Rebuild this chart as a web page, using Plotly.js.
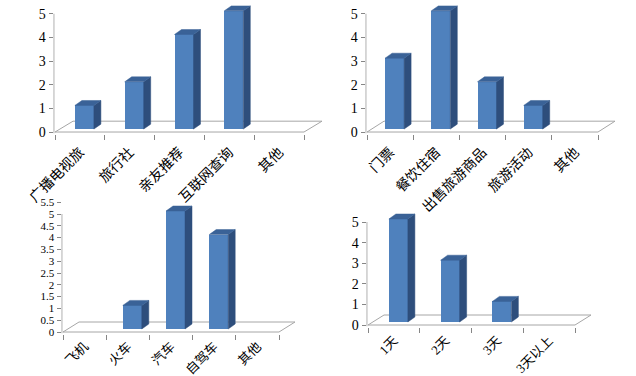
<!DOCTYPE html>
<html>
<head>
<meta charset="utf-8">
<script src="https://cdn.plot.ly/plotly-3.0.1.min.js"></script>
<style>html,body{margin:0;padding:0;background:#fff;}#chart{width:636px;height:376px;}</style>
</head>
<body>
<div id="chart"></div>
<script>
// ---- data ----
const infoCats = ["广播电视旅", "旅行社", "亲友推荐", "互联网查询", "其他"];
const infoVals = [1, 2, 4, 5, 0];
const spendCats = ["门票", "餐饮住宿", "出售旅游商品", "旅游活动", "其他"];
const spendVals = [3, 5, 2, 1, 0];
const transCats = ["飞机", "火车", "汽车", "自驾车", "其他"];
const transVals = [0, 1, 5, 4, 0];
const daysCats = ["1天", "2天", "3天", "3天以上"];
const daysVals = [5, 3, 1, 0];

// ---- geometry (pixels) ----
const W = 636, H = 376;
const panels = [
  {cats: infoCats, vals: infoVals, px0: 55, px1: 304, py0: 132, py5: 12, fdx: 18, fdy: 11, dtick: 1, fs: 14, lfs: 14, so: 7},
  {cats: spendCats, vals: spendVals, px0: 367, px1: 598, py0: 132, py5: 12, fdx: 17, fdy: 11, dtick: 1, fs: 14, lfs: 14, so: 7},
  {cats: transCats, vals: transVals, px0: 63, px1: 279, py0: 332, py5: 214, fdx: 16, fdy: 10, dtick: 0.5, fs: 11, lfs: 13, so: 2},
  {cats: daysCats, vals: daysVals, px0: 368, px1: 575, py0: 325, py5: 222, fdx: 16, fdy: 10, dtick: 1, fs: 14, lfs: 13, so: 3}
];

const FRONT = '#4F81BD', SIDE = '#2E4E7C', TOP = '#3A6297';
const AXC = '#868686', FLOORC = '#A6A6A6';

const traces = [];
const layout = {
  width: W, height: H, margin: {l: 0, r: 0, t: 0, b: 0},
  paper_bgcolor: '#fff', plot_bgcolor: 'rgba(0,0,0,0)',
  showlegend: false, shapes: [], bargap: 0
};

panels.forEach((p, k) => {
  const n = p.cats.length;
  const xpx = (p.px1 - p.px0) / n;
  const ypx = (p.py0 - p.py5) / 5;
  const xs = k === 0 ? '' : String(k + 1);
  const xa = 'x' + xs, ya = 'y' + xs;
  const xname = 'xaxis' + xs, yname = 'yaxis' + xs;

  const xmin = -0.5 - 1.5 / xpx;
  const xmax = n - 0.5 + (p.fdx + 1) / xpx;
  const ymin = -1.5 / ypx, ymax = 5 + 14 / ypx;
  layout[xname] = {
    domain: [(p.px0 - 1.5) / W, (p.px1 + p.fdx + 1) / W],
    range: [xmin, xmax], anchor: ya,
    showline: false, zeroline: false, showgrid: false,
    tickmode: 'array', tickvals: p.cats.map((c, i) => i), ticktext: p.cats,
    ticks: '', tickangle: -45, ticklabelstandoff: p.so,
    tickfont: {family: 'Liberation Serif, Noto Sans CJK SC, serif', size: p.lfs, color: '#000'},
    minor: {tickmode: 'array', tickvals: p.cats.map((c, i) => i - 0.5).concat([n - 0.5]),
            ticks: 'outside', ticklen: 5, tickcolor: AXC, tickwidth: 1, showgrid: false}
  };
  layout[yname] = {
    domain: [1 - (p.py0 + 1.5) / H, 1 - (p.py5 - 14) / H],
    range: [ymin, ymax], anchor: xa,
    showline: false, zeroline: false, showgrid: false,
    ticks: 'outside', ticklen: 4, tickcolor: AXC,
    tickmode: 'linear', tick0: 0, dtick: p.dtick,
    tickfont: {family: 'Liberation Serif, serif', size: p.fs, color: '#000'}
  };
  // y axis line from 0 to 5 only
  layout.shapes.push({type: 'line', xref: xa, yref: ya, layer: 'above',
    x0: -0.5 - 1.2 / xpx, x1: -0.5 - 1.2 / xpx, y0: ymin, y1: 5, line: {color: AXC, width: 1}});

  // floor (a 3D plane under the bars)
  const fdx = p.fdx / xpx, fdy = p.fdy / ypx;
  const x0 = -0.5, x1 = n - 0.5;
  layout.shapes.push({
    type: 'path', xref: xa, yref: ya, layer: 'below',
    path: `M${x0},0 L${x1},0 L${x1 + fdx},${fdy} L${x0 + fdx},${fdy} Z`,
    line: {color: FLOORC, width: 1}, fillcolor: 'rgba(0,0,0,0)'
  });

  // bar geometry
  const off = 4.5 / xpx, w = 19 / xpx, base = 3 / ypx;
  const bdx = 7 / xpx, bdy = 5 / ypx;
  const bx = p.vals.map((v, i) => i + off);

  traces.push({
    type: 'bar', x: bx, y: p.vals, base: base, width: w,
    xaxis: xa, yaxis: ya,
    marker: {color: FRONT, line: {width: 0}},
    hoverinfo: 'skip'
  });

  const sx = [], sy = [], tx = [], ty = [];
  p.vals.forEach((v, i) => {
    if (!v) return;
    const xl = bx[i] - w / 2, xr = bx[i] + w / 2;
    const yb = base, yt = base + v;
    sx.push(xr, xr, xr + bdx, xr + bdx, xr, null);
    sy.push(yb, yt, yt + bdy, yb + bdy, yb, null);
    tx.push(xl, xr, xr + bdx, xl + bdx, xl, null);
    ty.push(yt, yt, yt + bdy, yt + bdy, yt, null);
  });
  traces.push({type: 'scatter', mode: 'lines', x: sx, y: sy, fill: 'toself', fillcolor: SIDE,
    line: {color: SIDE, width: 0.5}, xaxis: xa, yaxis: ya, hoverinfo: 'skip'});
  traces.push({type: 'scatter', mode: 'lines', x: tx, y: ty, fill: 'toself', fillcolor: TOP,
    line: {color: TOP, width: 0.5}, xaxis: xa, yaxis: ya, hoverinfo: 'skip'});
});

Plotly.newPlot('chart', traces, layout, {staticPlot: true, displayModeBar: false});
</script>
</body>
</html>
